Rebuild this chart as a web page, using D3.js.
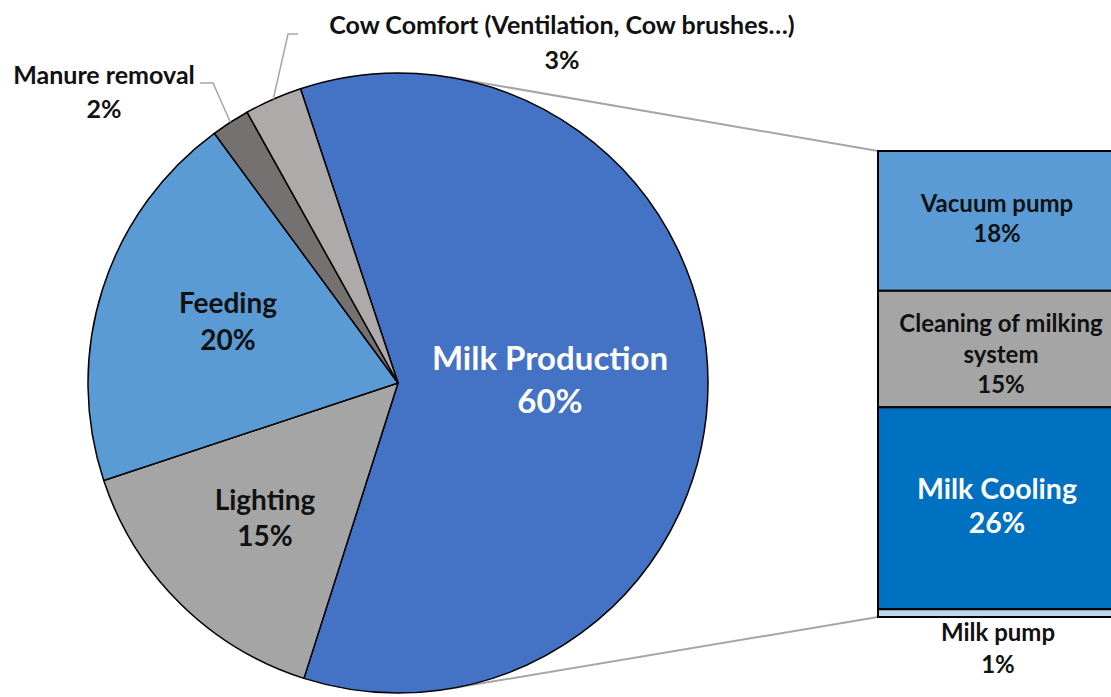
<!DOCTYPE html>
<html>
<head>
<meta charset="utf-8">
<script src="https://cdn.jsdelivr.net/npm/d3@7"></script>
<style>
  body { margin: 0; background: #fff; }
  text { font-family: Lato, "Open Sans", sans-serif; font-weight: bold; }
</style>
</head>
<body>
<script>
var width = 1111;
var height = 697;

// pie of energy use
var pieLabels = ['Milk Production', 'Lighting', 'Feeding', 'Manure removal', 'Cow Comfort (Ventilation, Cow brushes\u2026)'];
var pieValues = [60, 15, 20, 2, 3];
var pieColors = ['#4472C4', '#A5A5A5', '#5B9BD5', '#767171', '#AEAAAA'];

// breakdown of Milk Production
var barLabels = [['Vacuum pump'], ['Cleaning of milking', 'system'], ['Milk Cooling'], ['Milk pump']];
var barValues = [18, 15, 26, 1];
var barColors = ['#5B9BD5', '#A5A5A5', '#0070C0', '#BDD7EE'];

var cx = 398, cy = 383, radius = 310;
var barX = 878, barW = 240, barTop = 151, barBottom = 617;

// label layout: x, first baseline, font size, line gap, colour
var pieLabelPos = [
    [550, 370, 33, 43, '#fff'],
    [265, 510, 28, 36, '#111'],
    [228, 313, 28, 37, '#111'],
    [104, 84, 25, 34, '#111'],
    [562, 34, 25, 35, '#111']
];
var barLabelPos = [
    [997, 212, 24, 30, '#111'],
    [1001, 332, 24, 30.5, '#111'],
    [997, 499, 28.5, 34, '#fff'],
    [998, 641, 24, 32, '#111']
];

var svg = d3.select('body').append('svg')
    .attr('width', width)
    .attr('height', height);

var startA = -0.32;
var pie = d3.pie().sort(null).value(function (d) { return d; })
    .startAngle(startA).endAngle(startA + 2 * Math.PI);
var arcs = pie(pieValues);
var arc = d3.arc().innerRadius(0).outerRadius(radius);

function polar(a, r) {
    return [cx + r * Math.sin(a), cy - r * Math.cos(a)];
}

// connector lines, tangent from bar corners to the circle
function tangent(px, py, upper) {
    var dx = px - cx, dy = py - cy;
    var d = Math.sqrt(dx * dx + dy * dy);
    var phi = Math.atan2(dy, dx);
    var alpha = Math.acos(radius / d);
    var t = upper ? phi - alpha : phi + alpha;
    return [cx + radius * Math.cos(t), cy + radius * Math.sin(t)];
}
[[barTop, true], [barBottom, false]].forEach(function (c) {
    var p = tangent(barX, c[0], c[1]);
    svg.append('line')
        .attr('x1', p[0]).attr('y1', p[1])
        .attr('x2', barX).attr('y2', c[0])
        .style('stroke', '#A6A6A6')
        .style('stroke-width', 2);
});

var g = svg.append('g').attr('transform', 'translate(' + cx + ',' + cy + ')');
g.selectAll('path')
    .data(arcs)
  .enter().append('path')
    .attr('d', arc)
    .style('fill', function (d, i) { return pieColors[i]; })
    .style('stroke', '#000')
    .style('stroke-width', 1.5)
    .style('stroke-linejoin', 'round');

// leader lines for the two small slices
var elbows = { 3: [[200, 83], [213, 83]], 4: [[298, 34], [288, 34]] };
Object.keys(elbows).forEach(function (k) {
    var a = arcs[k];
    var pts = elbows[k].concat([polar((a.startAngle + a.endAngle) / 2, radius)]);
    svg.append('path')
        .attr('d', d3.line()(pts))
        .style('fill', 'none')
        .style('stroke', '#A6A6A6')
        .style('stroke-width', 1.5);
});

function label(pos, lines) {
    var t = svg.append('text')
        .attr('x', pos[0]).attr('y', pos[1])
        .attr('text-anchor', 'middle')
        .style('font-size', pos[2] + 'px')
        .style('fill', pos[4]);
    lines.forEach(function (s, i) {
        t.append('tspan').attr('x', pos[0]).attr('dy', i ? pos[3] : 0).text(s);
    });
}

pieLabels.forEach(function (s, i) {
    label(pieLabelPos[i], [s, pieValues[i] + '%']);
});

// stacked bar
var y = d3.scaleLinear().domain([0, d3.sum(barValues)]).range([barTop, barBottom]);
var cum = 0;
var segs = barValues.map(function (v) {
    var s = { y0: cum, y1: cum + v };
    cum += v;
    return s;
});
svg.selectAll('rect.seg')
    .data(segs)
  .enter().append('rect')
    .attr('class', 'seg')
    .attr('x', barX)
    .attr('y', function (d) { return y(d.y0); })
    .attr('width', barW)
    .attr('height', function (d) { return y(d.y1) - y(d.y0); })
    .style('fill', function (d, i) { return barColors[i]; })
    .style('stroke', '#000')
    .style('stroke-width', 2);

barLabels.forEach(function (lines, i) {
    label(barLabelPos[i], lines.concat([barValues[i] + '%']));
});
</script>
</body>
</html>
